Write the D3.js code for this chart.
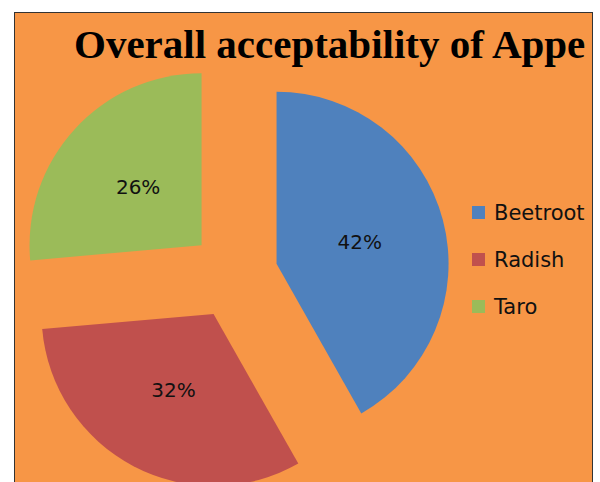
<!DOCTYPE html>
<html>
<head>
<meta charset="utf-8">
<script src="https://cdn.jsdelivr.net/npm/d3@7"></script>
<style>
  html, body { margin: 0; padding: 0; background: #fff; }
  svg { display: block; }
</style>
</head>
<body>
<div id="chart"></div>
<script>
var width = 600,
    height = 482;

var categories = ["Beetroot", "Radish", "Taro"];
// shares; labels show them rounded
var values = [41.8, 31.8, 26.4];
var labels = ["42%", "32%", "26%"];
var colors = ["#4F81BD", "#C0504D", "#9BBB59"];

var title = "Overall acceptability of Appe";

// chart frame
var frame = { x: 14.5, y: 12.5, w: 578, h: 500 };

var cx = 234, cy = 275,
    radius = 172,
    explode = 44;

var svg = d3.select("#chart").append("svg")
    .attr("width", width)
    .attr("height", height);

svg.append("clipPath")
    .attr("id", "frame-clip")
    .append("rect")
    .attr("x", frame.x)
    .attr("y", frame.y)
    .attr("width", frame.w)
    .attr("height", frame.h);

svg.append("rect")
    .attr("x", frame.x)
    .attr("y", frame.y)
    .attr("width", frame.w)
    .attr("height", frame.h)
    .attr("fill", "#F79646");

var g = svg.append("g")
    .attr("clip-path", "url(#frame-clip)");

g.append("text")
    .attr("x", 74)
    .attr("y", 58)
    .attr("font-family", "'Liberation Serif', 'Times New Roman', serif")
    .attr("font-weight", "bold")
    .attr("font-size", 41)
    .attr("fill", "#000")
    .text(title);

var pie = d3.pie().sort(null).value(function (d) { return d; });
var arcs = pie(values);

var arc = d3.arc().innerRadius(0).outerRadius(radius);

function offset(d) {
    var a = (d.startAngle + d.endAngle) / 2;
    return [explode * Math.sin(a), -explode * Math.cos(a)];
}

var slice = g.append("g")
    .attr("transform", "translate(" + cx + "," + cy + ")")
    .selectAll("g")
    .data(arcs)
    .join("g")
    .attr("transform", function (d) { var o = offset(d); return "translate(" + o[0] + "," + o[1] + ")"; });

slice.append("path")
    .attr("d", arc)
    .attr("fill", function (d, i) { return colors[i]; });

slice.append("text")
    .attr("transform", function (d) { return "translate(" + arc.centroid(d) + ")"; })
    .attr("text-anchor", "middle")
    .attr("dy", "0.36em")
    .attr("font-family", "'DejaVu Sans', sans-serif")
    .attr("font-size", 20)
    .attr("fill", "#111")
    .text(function (d, i) { return labels[i]; });

// legend
var legend = g.append("g")
    .selectAll("g")
    .data(categories)
    .join("g")
    .attr("transform", function (d, i) { return "translate(472," + (206 + i * 47) + ")"; });

legend.append("rect")
    .attr("width", 13)
    .attr("height", 13)
    .attr("fill", function (d, i) { return colors[i]; });

legend.append("text")
    .attr("x", 22)
    .attr("y", 13.5)
    .attr("font-family", "'DejaVu Sans', sans-serif")
    .attr("font-size", 21)
    .attr("fill", "#111")
    .text(function (d) { return d; });

svg.append("rect")
    .attr("x", frame.x)
    .attr("y", frame.y)
    .attr("width", frame.w)
    .attr("height", frame.h)
    .attr("fill", "none")
    .attr("stroke", "#333")
    .attr("stroke-width", 1);
</script>
</body>
</html>
